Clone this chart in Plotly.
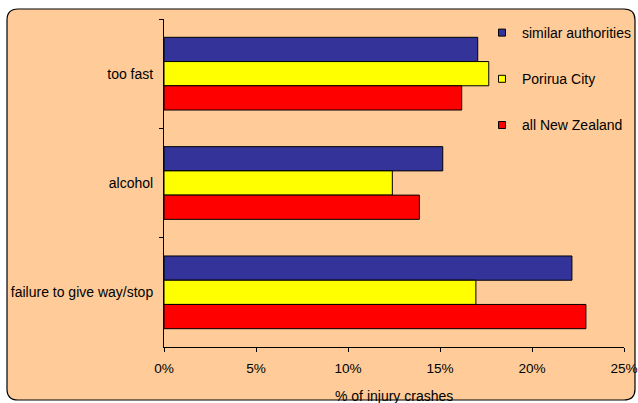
import plotly.graph_objects as go

categories = ["too fast", "alcohol", "failure to give way/stop"]
series_names = ["similar authorities", "Porirua City", "all New Zealand"]
similar_authorities = [17.05, 15.15, 22.17]
porirua_city = [17.65, 12.41, 16.95]
all_new_zealand = [16.18, 13.88, 22.93]
x_tickvals = [0, 5, 10, 15, 20, 25]
x_ticktext = ["0%", "5%", "10%", "15%", "20%", "25%"]
x_title = "% of injury crashes"

colors = ["#333399", "#FFFF00", "#FF0000"]
values = [similar_authorities, porirua_city, all_new_zealand]

W, H = 638, 403
ML, MR, MT, MB = 164, 14, 19, 56
BG = "#FFCC99"
FONT = "Liberation Sans, Arial, sans-serif"
FS = 14

fig = go.Figure()
for name, vals, col in zip(series_names, values, colors):
    fig.add_trace(go.Bar(
        y=categories, x=vals, name=name, orientation="h",
        marker=dict(color=col, line=dict(color="#000000", width=1)),
        showlegend=False,
    ))
# legend entries with small square keys
for name, col in zip(series_names, colors):
    fig.add_trace(go.Scatter(
        x=[None], y=[None], mode="markers", name=name, legendgroup=name,
        marker=dict(symbol="square", size=7, color=col,
                    line=dict(color="#000000", width=1)),
    ))

pw = W - ML - MR
ph = H - MT - MB
def px(x):
    return (x - ML) / pw
def py(y):
    return (H - MB - y) / ph
L, R, T, B, r = 7, 635, 9, 400, 11
path = (
    f"M {px(L + r)},{py(T)} L {px(R - r)},{py(T)} Q {px(R)},{py(T)} {px(R)},{py(T + r)} "
    f"L {px(R)},{py(B - r)} Q {px(R)},{py(B)} {px(R - r)},{py(B)} "
    f"L {px(L + r)},{py(B)} Q {px(L)},{py(B)} {px(L)},{py(B - r)} "
    f"L {px(L)},{py(T + r)} Q {px(L)},{py(T)} {px(L + r)},{py(T)} Z"
)
fig.add_shape(type="path", path=path, xref="paper", yref="paper",
              fillcolor=BG, line=dict(color="#000000", width=1.2), layer="below")

fig.add_annotation(text=x_title, xref="paper", yref="paper",
                   x=0.5, y=py(396), xanchor="center", yanchor="middle",
                   showarrow=False, font=dict(family=FONT, size=FS))

fig.update_layout(
    width=W, height=H,
    margin=dict(l=ML, r=MR, t=MT, b=MB, autoexpand=False),
    paper_bgcolor="#FFFFFF",
    plot_bgcolor=BG,
    barmode="group",
    bargap=0.335,
    bargroupgap=0,
    font=dict(family=FONT, size=FS, color="#000000"),
    legend=dict(
        x=px(482), xanchor="left", y=py(17), yanchor="top",
        bgcolor="rgba(0,0,0,0)", tracegroupgap=25,
        font=dict(family=FONT, size=FS, color="#000000"),
        itemwidth=30,
    ),
    xaxis=dict(
        range=[0, 25], tickvals=x_tickvals, ticktext=x_ticktext,
        showgrid=False, zeroline=False, showline=True, linecolor="#000000",
        linewidth=1, ticks="outside", ticklen=4, tickcolor="#000000",
        ticklabelstandoff=5, automargin=False,
        tickfont=dict(family=FONT, size=13.6),
    ),
    yaxis=dict(
        autorange="reversed", showgrid=False, showline=True,
        linecolor="#000000", linewidth=1, ticks="outside", ticklen=4,
        tickcolor="#000000", tickson="boundaries", ticklabelstandoff=7,
        automargin=False,
    ),
)

fig.write_html("out.html")
